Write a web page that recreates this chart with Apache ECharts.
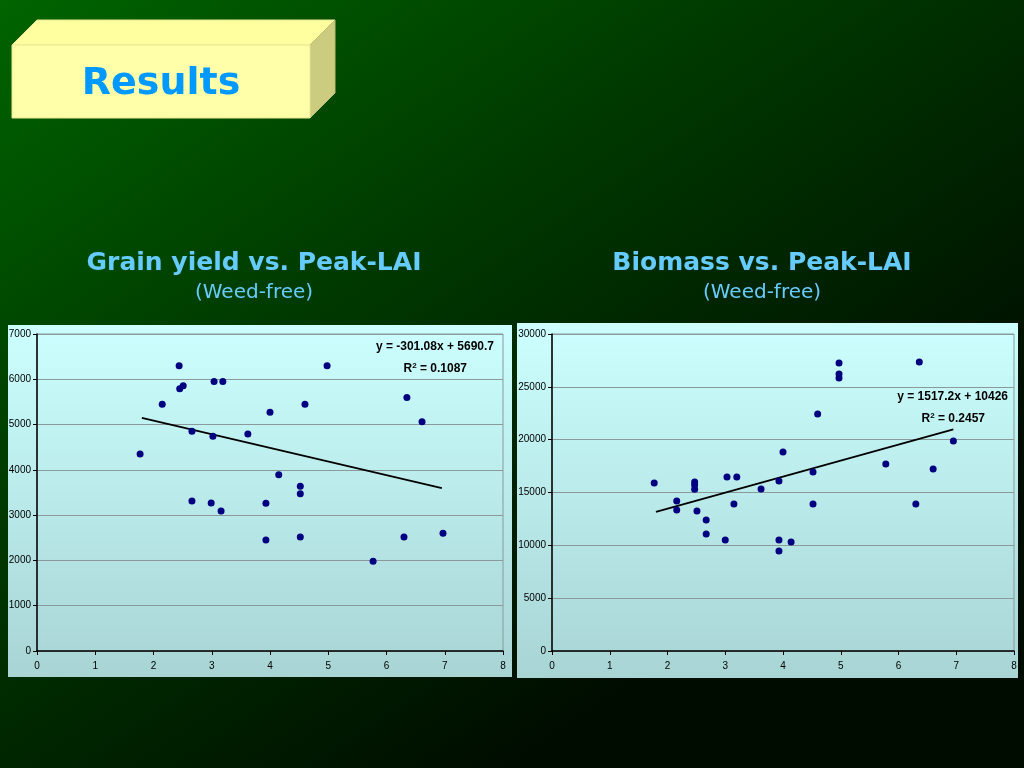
<!DOCTYPE html>
<html><head><meta charset="utf-8">
<script src="https://cdn.jsdelivr.net/npm/echarts@6/dist/echarts.min.js"></script>
<style>html,body{margin:0;padding:0;width:1024px;height:768px;overflow:hidden;background:#002a00}#c{width:1024px;height:768px}</style>
</head><body><div id="c"></div>
<script>
// Grain yield vs Peak-LAI (weed-free)
const grainLAI =   [1.77,2.15,2.44,2.45,2.51,2.66,2.66,2.99,3.02,3.04,3.19,3.16,3.62,3.93,3.93,4.00,4.15,4.52,4.52,4.52,4.60,4.98,5.77,6.30,6.35,6.61,6.97];
const grainYield = [4350,5450,6300,5790,5860,4850,3310,3270,4740,5950,5950,3090,4790,3260,2450,5270,3890,3640,3470,2520,5450,6300,1980,2520,5600,5060,2600];
const grainTrendX = [1.8, 6.95];
const grainTrendY = [5148, 3598];
const grainEq = "y = -301.08x + 5690.7";
const grainR2 = "0.1087";

// Biomass vs Peak-LAI (weed-free)
const bioLAI =     [1.77,2.16,2.16,2.47,2.47,2.47,2.51,2.67,2.67,3.00,3.03,3.20,3.15,3.62,3.93,4.00,4.52,4.60,4.97,4.97,4.97,5.78,6.36,6.60,6.95,3.93,3.93,4.14,4.52,6.30];
const bioMass =    [15900,14200,13350,16000,15700,15300,13250,12400,11070,10500,16470,16470,13900,15330,16090,18830,16940,22430,27260,26220,25840,17700,27350,17230,19880,10500,9470,10320,13910,13910];
const bioTrendX = [1.8, 6.95];
const bioTrendY = [13157, 20971];
const bioEq = "y = 1517.2x + 10426";
const bioR2 = "0.2457";

const grainMax = 7000, grainStep = 1000;
const bioMax = 30000, bioStep = 5000;

const chart = echarts.init(document.getElementById('c'));
const zip = (a,b) => a.map((v,i)=>[v,b[i]]);
const labelFont = {color:'#000', fontSize:10, fontFamily:'Liberation Sans'};

function xAxis(gi){
  return {type:'value', gridIndex:gi, min:0, max:8, interval:1,
    axisLine:{show:true, onZero:false, lineStyle:{color:'#000', width:1.5}},
    axisTick:{show:true, length:4, lineStyle:{color:'#000'}},
    axisLabel:Object.assign({margin:10, formatter:v=>String(v)}, labelFont),
    splitLine:{show:false}};
}
function yAxis(gi,max,step){
  return {type:'value', gridIndex:gi, min:0, max:max, interval:step,
    axisLine:{show:true, onZero:false, lineStyle:{color:'#000', width:1.5}},
    axisTick:{show:true, length:4, lineStyle:{color:'#000'}},
    axisLabel:Object.assign({margin:6, formatter:v=>String(v)}, labelFont),
    splitLine:{show:true, lineStyle:{color:'#8a9a9a', width:1}}};
}
const panelFill = {type:'linear', x:0,y:0,x2:0,y2:1, colorStops:[{offset:0,color:'#ccffff'},{offset:1,color:'#a8d4d4'}]};
const r2Rich = {b:{font:'bold 12px "Liberation Sans"', fill:'#000'}, s:{font:'bold 8px "Liberation Sans"', fill:'#000', verticalAlign:'top', padding:[0,0,6,0]}};
function r2Text(v,x,y){
  return {type:'text', z:100, style:{text:'{b|R}{s|2}{b| = '+v+'}', rich:r2Rich, x:x, y:y, align:'right', verticalAlign:'middle', fill:'#000', font:'bold 12px "Liberation Sans"'}};
}

chart.setOption({
  backgroundColor:{type:'linear', x:0, y:0, x2:0.5, y2:1, colorStops:[
    {offset:0,color:'#006400'},{offset:0.45,color:'#003a00'},{offset:1,color:'#000c00'}]},
  animation:false,
  graphic:[
    {type:'rect', z:-5, shape:{x:8,y:325,width:504,height:352}, style:{fill:panelFill}},
    {type:'rect', z:-5, shape:{x:517,y:323,width:501,height:355}, style:{fill:panelFill}},
    // 3D box
    {type:'polygon', shape:{points:[[12,45],[37,20],[335,20],[310,45]]}, style:{fill:'#ffffa0', stroke:'#e8e890', lineWidth:1}},
    {type:'polygon', shape:{points:[[310,45],[335,20],[335,93],[310,118]]}, style:{fill:'#cccc80', stroke:'#bcbc70', lineWidth:1}},
    {type:'rect', shape:{x:12,y:45,width:298,height:73}, style:{fill:'#ffffaa', stroke:'#e8e890', lineWidth:1}},
    {type:'text', style:{text:'Results', x:161, y:84, align:'center', verticalAlign:'middle', fill:'#0099ff', font:'bold 38px "DejaVu Sans"'}},
    // titles
    {type:'text', style:{text:'Grain yield vs. Peak-LAI', x:254, y:263, align:'center', verticalAlign:'middle', fill:'#66ccff', font:'bold 25px "DejaVu Sans"'}},
    {type:'text', style:{text:'(Weed-free)', x:254, y:293, align:'center', verticalAlign:'middle', fill:'#66ccff', font:'20px "DejaVu Sans"'}},
    {type:'text', style:{text:'Biomass vs. Peak-LAI', x:762, y:263, align:'center', verticalAlign:'middle', fill:'#66ccff', font:'bold 25px "DejaVu Sans"'}},
    {type:'text', style:{text:'(Weed-free)', x:762, y:293, align:'center', verticalAlign:'middle', fill:'#66ccff', font:'20px "DejaVu Sans"'}},
    // equations
    {type:'text', z:100, style:{text:grainEq, x:494, y:347, align:'right', verticalAlign:'middle', fill:'#000', font:'bold 12px "Liberation Sans"'}},
    r2Text(grainR2, 467, 369),
    {type:'text', z:100, style:{text:bioEq, x:1008, y:397, align:'right', verticalAlign:'middle', fill:'#000', font:'bold 12px "Liberation Sans"'}},
    r2Text(bioR2, 985, 419)
  ],
  grid:[
    {left:37, right:521, top:334, bottom:117, show:true, borderColor:'#8a9a9a', borderWidth:1, backgroundColor:'transparent'},
    {left:552, right:10, top:334, bottom:117, show:true, borderColor:'#8a9a9a', borderWidth:1, backgroundColor:'transparent'}
  ],
  xAxis:[xAxis(0), xAxis(1)],
  yAxis:[yAxis(0,grainMax,grainStep), yAxis(1,bioMax,bioStep)],
  series:[
    {type:'scatter', xAxisIndex:0, yAxisIndex:0, data:zip(grainLAI,grainYield), symbolSize:7, itemStyle:{color:'#000080', opacity:1}, z:3},
    {type:'line', xAxisIndex:0, yAxisIndex:0, data:zip(grainTrendX,grainTrendY), symbol:'none', lineStyle:{color:'#000', width:1.8}, z:2},
    {type:'scatter', xAxisIndex:1, yAxisIndex:1, data:zip(bioLAI,bioMass), symbolSize:7, itemStyle:{color:'#000080', opacity:1}, z:3},
    {type:'line', xAxisIndex:1, yAxisIndex:1, data:zip(bioTrendX,bioTrendY), symbol:'none', lineStyle:{color:'#000', width:1.8}, z:2}
  ]
});
</script></body></html>
